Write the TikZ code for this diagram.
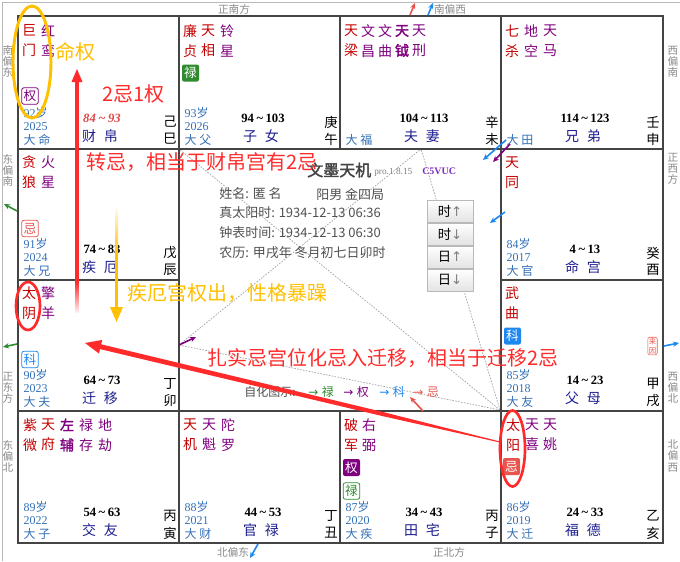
\documentclass[tikz,border=0pt]{standalone}
\usepackage{fontspec}
\setmainfont{Liberation Serif}
\newfontfamily\cjk[AutoFakeBold=2]{Noto Sans CJK SC}
\newfontfamily\djv{DejaVu Sans}
\usetikzlibrary{arrows.meta}
\definecolor{zred}{HTML}{C40000}
\definecolor{zpur}{HTML}{800080}
\definecolor{zblue}{HTML}{3470B8}
\definecolor{znavy}{HTML}{1F1F8F}
\definecolor{zgrid}{HTML}{444444}
\definecolor{zdir}{HTML}{8A8A8A}
\definecolor{zinfo}{HTML}{505050}
\definecolor{annred}{HTML}{FF2B2B}
\definecolor{annor}{HTML}{FFC000}
\definecolor{hgreen}{HTML}{2E8B2E}
\definecolor{hblue}{HTML}{1E88F0}
\definecolor{hred}{HTML}{E8554E}
\definecolor{rngred}{HTML}{E04848}
\definecolor{cpur}{HTML}{7B2FBF}
\newcommand\zwgong[9]{%
 \node[agest,anchor=west] (#1age) at ([shift={(4,-36)}]#1) {#2};
 \node[agest,anchor=west] (#1yr) at ([shift={(4,-22)}]#1) {#3};
 \node[agest,anchor=west,font=\cjk\fontsize{9}{9}\selectfont] (#1dx) at ([shift={(4,-9)}]#1) {#4};
 \node[rng,#9] (#1rng) at ([shift={(84,-31)}]#1) {#5};
 \node[pname] (#1nm) at ([shift={(82,-13)}]#1) {#6};
 \node[gz] (#1gan) at ([shift={(152,-27)}]#1) {#7};
 \node[gz] (#1zhi) at ([shift={(152,-10)}]#1) {#8};
}
\newcommand\rg[2]{#1\hspace{0.2em}\textasciitilde\hspace{0.2em}#2}
\begin{document}
\begin{tikzpicture}[x=0.75pt,y=-0.75pt,
 cellgrid/.style={draw=zgrid, line width=1.9pt},
 dotl/.style={draw=gray!75, line width=0.5pt, dash pattern=on 1.2pt off 1pt},
 starn/.style={font=\cjk\fontsize{10.5}{15}\selectfont, align=center, inner sep=0pt},
 agest/.style={font=\fontsize{9}{9}\selectfont, text=zblue, inner sep=1pt},
 rng/.style={font=\bfseries\fontsize{9.5}{10}\selectfont, inner sep=0pt},
 pname/.style={font=\cjk\fontsize{10.5}{11}\selectfont, text=znavy, inner sep=0pt},
 gz/.style={font=\cjk\fontsize{10}{11}\selectfont, inner sep=0pt},
 dirl/.style={font=\cjk\fontsize{8}{8.3}\selectfont, text=zdir, align=center, inner sep=0pt},
 huaf/.style={fill=#1, text=white, rounded corners=1.5pt, minimum size=12.75pt, inner sep=0pt, font=\cjk\fontsize{9.5}{10}\selectfont},
 huao/.style={draw=#1, fill=white, text=#1, line width=0.6pt, rounded corners=1.5pt, minimum size=12.3pt, inner sep=0pt, font=\cjk\fontsize{9.5}{10}\selectfont},
 big/.style={font=\cjk\fontsize{15}{16}\selectfont, inner sep=0pt, anchor=west},
 info/.style={font=\cjk\fontsize{9.75}{10}\selectfont, text=zinfo, anchor=west, inner sep=0pt},
 btn/.style={draw=gray!55, top color=white, bottom color=gray!22, minimum width=34.5pt, minimum height=16.5pt, inner sep=0pt, font=\cjk\fontsize{10}{10}\selectfont},
 sarr/.style={-{Stealth[length=4.5pt,width=4pt]}, line width=1.2pt},
 lgd/.style={font=\cjk\fontsize{9}{9}\selectfont, anchor=west, inner sep=0pt}
]
\useasboundingbox (0,0) rectangle (680,561);
\fill[white] (0,0) rectangle (680,561);
\draw[gray!55, line width=0.6pt] (2,561) -- (2,2) -- (680,2);

% dotted san-fang-si-zheng lines
\coordinate (pA) at (500,410);
\coordinate (pB) at (179,149);
\coordinate (pC) at (179,345);
\coordinate (pD) at (421,149);
\draw[dotl] (pA) -- (pB);
\draw[dotl] (pA) -- (pC);
\draw[dotl] (pA) -- (pD);
\draw[dotl] (pC) -- (pD);

% grid
\draw[cellgrid] (18,16) rectangle (663,543);
\draw[cellgrid] (179,16) -- (179,543);
\draw[cellgrid] (501,16) -- (501,543);
\draw[cellgrid] (340,16) -- (340,149);
\draw[cellgrid] (340,411) -- (340,543);
\draw[cellgrid] (18,149) -- (663,149);
\draw[cellgrid] (18,411) -- (663,411);
\draw[cellgrid] (18,280) -- (179,280);
\draw[cellgrid] (501,280) -- (663,280);

% direction labels
\node[dirl] (d1) at (8,61) {南\\偏\\东};
\node[dirl] (d2) at (673,62) {西\\偏\\南};
\node[dirl] (d3) at (8,170) {东\\偏\\南};
\node[dirl] (d4) at (673,169) {正\\西\\方};
\node[dirl] (d5) at (8,388) {正\\东\\方};
\node[dirl] (d6) at (673,388) {西\\偏\\北};
\node[dirl] (d7) at (8,456) {东\\偏\\北};
\node[dirl] (d8) at (673,456) {北\\偏\\西};
\node[dirl] (d9) at (234,9) {正南方};
\node[dirl] (d10) at (450,9) {南偏西};
\node[dirl] (d11) at (233,552) {北偏东};
\node[dirl] (d12) at (449,552) {正北方};

% cell corners (bottom-left)
\coordinate (si) at (18,149);
\coordinate (wu) at (179,149);
\coordinate (wei) at (340,149);
\coordinate (shen) at (501,149);
\coordinate (chen) at (18,280);
\coordinate (you) at (501,280);
\coordinate (mao) at (18,411);
\coordinate (xu) at (501,411);
\coordinate (yin) at (18,543);
\coordinate (chou) at (179,543);
\coordinate (zi) at (340,543);
\coordinate (hai) at (501,543);

\zwgong{si}{92{\cjk 岁}}{2025}{大 命}{\rg{84}{93}}{财\hspace{0.55em}帛}{己}{巳}{text=rngred,font=\bfseries\itshape\fontsize{9.5}{10}\selectfont}
\zwgong{wu}{93{\cjk 岁}}{2026}{大 父}{\rg{94}{103}}{子\hspace{0.55em}女}{庚}{午}{}
\zwgong{wei}{}{}{大 福}{\rg{104}{113}}{夫\hspace{0.55em}妻}{辛}{未}{}
\zwgong{shen}{}{}{大 田}{\rg{114}{123}}{兄\hspace{0.55em}弟}{壬}{申}{}
\zwgong{chen}{91{\cjk 岁}}{2024}{大 兄}{\rg{74}{83}}{疾\hspace{0.55em}厄}{戊}{辰}{}
\zwgong{you}{84{\cjk 岁}}{2017}{大 官}{\rg{4}{13}}{命\hspace{0.55em}宫}{癸}{酉}{}
\zwgong{mao}{90{\cjk 岁}}{2023}{大 夫}{\rg{64}{73}}{迁\hspace{0.55em}移}{丁}{卯}{}
\zwgong{xu}{85{\cjk 岁}}{2018}{大 友}{\rg{14}{23}}{父\hspace{0.55em}母}{甲}{戌}{}
\zwgong{yin}{89{\cjk 岁}}{2022}{大 子}{\rg{54}{63}}{交\hspace{0.55em}友}{丙}{寅}{}
\zwgong{chou}{88{\cjk 岁}}{2021}{大 财}{\rg{44}{53}}{官\hspace{0.55em}禄}{丁}{丑}{}
\zwgong{zi}{87{\cjk 岁}}{2020}{大 疾}{\rg{34}{43}}{田\hspace{0.55em}宅}{丙}{子}{}
\zwgong{hai}{86{\cjk 岁}}{2019}{大 迁}{\rg{24}{33}}{福\hspace{0.55em}德}{乙}{亥}{}

% stars
\node[starn,text=zred] (s1) at (29,41) {巨\\门};
\node[starn,text=zpur] (s2) at (48,41) {红\\鸾};
\node[starn,text=zred] (s3) at (190,41) {廉\\贞};
\node[starn,text=zred] (s4) at (208,41) {天\\相};
\node[starn,text=zpur] (s5) at (227,41) {铃\\星};
\node[starn,text=zred] (s6) at (351,41) {天\\梁};
\node[starn,text=zpur] (s7) at (368,41) {文\\昌};
\node[starn,text=zpur] (s8) at (385,41) {文\\曲};
\node[starn,text=zpur,font=\cjk\bfseries\fontsize{10.5}{15}\selectfont] (s9) at (402,41) {天\\钺};
\node[starn,text=zpur] (s10) at (419,41) {天\\刑};
\node[starn,text=zred] (s11) at (512,41) {七\\杀};
\node[starn,text=zpur] (s12) at (531,41) {地\\空};
\node[starn,text=zpur] (s13) at (550,41) {天\\马};
\node[starn,text=zred] (s14) at (29,172) {贪\\狼};
\node[starn,text=zpur] (s15) at (48,172) {火\\星};
\node[starn,text=zred] (s16) at (512,173) {天\\同};
\node[starn,text=zred] (s17) at (29,303) {太\\阴};
\node[starn,text=zpur] (s18) at (48,303) {擎\\羊};
\node[starn,text=zred] (s19) at (512,303) {武\\曲};
\node[starn,text=zred] (s20) at (30,435) {紫\\微};
\node[starn,text=zred] (s21) at (48,435) {天\\府};
\node[starn,text=zpur,font=\cjk\bfseries\fontsize{10.5}{15}\selectfont] (s22) at (67,435) {左\\辅};
\node[starn,text=zpur] (s23) at (86,435) {禄\\存};
\node[starn,text=zpur] (s24) at (105,435) {地\\劫};
\node[starn,text=zred] (s25) at (190,435) {天\\机};
\node[starn,text=zpur] (s26) at (209,435) {天\\魁};
\node[starn,text=zpur] (s27) at (228,435) {陀\\罗};
\node[starn,text=zred] (s28) at (351,435) {破\\军};
\node[starn,text=zpur] (s29) at (369,435) {右\\弼};
\node[starn,text=zred] (s30) at (513,435) {太\\阳};
\node[starn,text=zpur] (s31) at (532,435) {天\\喜};
\node[starn,text=zpur] (s32) at (550,435) {天\\姚};

% si hua marks
\node[huao=zpur] (h1) at (30,96) {权};
\node[huaf=hgreen] (h2) at (190.5,73) {禄};
\node[huao=hred] (h3) at (30,228.5) {忌};
\node[huao=hblue] (h4) at (30,359.5) {科};
\node[huaf=hblue] (h5) at (512.5,336) {科};
\node[huaf=zpur] (h6) at (351.5,467.5) {权};
\node[huao=hgreen] (h7) at (351.5,491) {禄};
\node[huaf=hred] (h8) at (511.5,466.5) {忌};
\node[draw=hred, rounded corners=1.5pt, inner sep=0.8pt, font=\cjk\fontsize{5.5}{6.5}\selectfont, text=hred, align=center] (laiyin) at (652.5,346) {来\\因};

% centre info
\node[font=\cjk\bfseries\fontsize{12}{12}\selectfont, text=zgrid, anchor=west, inner sep=0pt] (title) at (307,170) {文墨天机};
\node[font=\fontsize{7}{7}\selectfont, text=gray, anchor=west, inner sep=0pt] (ver) at (374,172) {pro.1.8.15};
\node[font=\bfseries\fontsize{7.5}{7.5}\selectfont, text=cpur, anchor=west, inner sep=0pt] (code) at (422,171) {C5VUC};
\node[info] (n1) at (219,194) {姓名: 匿 名};
\node[info] (n2) at (316,194) {阳男 金四局};
\node[info] (n3) at (219,213) {真太阳时: 1934-12-13 06:36};
\node[info] (n4) at (219,233) {钟表时间: 1934-12-13 06:30};
\node[info] (n5) at (219,253) {农历: 甲戌年 冬月初七日卯时};

\node[btn] (b1) at (450,211) {时{\djv\color{gray}↑}};
\node[btn] (b2) at (450,234) {时{\djv\color{gray}↓}};
\node[btn] (b3) at (450,257) {日{\djv\color{gray}↑}};
\node[btn] (b4) at (450,280) {日{\djv\color{gray}↓}};

\node[lgd, text=zinfo] (lg0) at (244,392) {自化图示:};
\node[lgd, text=hgreen] (lg1) at (308,392) {{\djv →}\hspace{0.3em}禄};
\node[lgd, text=zpur] (lg2) at (343,392) {{\djv →}\hspace{0.3em}权};
\node[lgd, text=hblue] (lg3) at (379,392) {{\djv →}\hspace{0.3em}科};
\node[lgd, text=hred] (lg4) at (413,392) {{\djv →}\hspace{0.3em}忌};

% small hua arrows
\coordinate (a1s) at (410,15); \coordinate (a1e) at (415,3);
\coordinate (a2s) at (428,15); \coordinate (a2e) at (433,3);
\coordinate (a3s) at (17,211); \coordinate (a3e) at (4,204);
\coordinate (a4s) at (17,344); \coordinate (a4e) at (3,347);
\coordinate (a5s) at (664,346); \coordinate (a5e) at (679,343);
\coordinate (a6s) at (258,544); \coordinate (a6e) at (250,558);
\coordinate (a7s) at (506,140); \coordinate (a7e) at (483,160);
\coordinate (a8s) at (510,144); \coordinate (a8e) at (493,162);
\coordinate (a9s) at (505,212); \coordinate (a9e) at (490,223);
\coordinate (a10s) at (179,345); \coordinate (a10e) at (196,337);
\coordinate (a11s) at (423,411); \coordinate (a11e) at (410,397);
\draw[sarr, hred] (a1s) -- (a1e);
\draw[sarr, hblue] (a2s) -- (a2e);
\draw[sarr, hgreen] (a3s) -- (a3e);
\draw[sarr, hgreen] (a4s) -- (a4e);
\draw[sarr, hblue] (a5s) -- (a5e);
\draw[sarr, hblue] (a6s) -- (a6e);
\draw[sarr, hblue] (a7s) -- (a7e);
\draw[sarr, zpur] (a8s) -- (a8e);
\draw[sarr, hblue] (a9s) -- (a9e);
\draw[sarr, zpur] (a10s) -- (a10e);
\draw[sarr, hred] (a11s) -- (a11e);

% annotations
\draw[annor, line width=2.2pt] (32,62) ellipse [x radius=19, y radius=56];
\draw[annred, line width=2pt] (28,306) ellipse [x radius=12, y radius=24];
\draw[annred, line width=2pt] (512.5,448.5) ellipse [x radius=12.5, y radius=38];

\node[big, text=annor] (t1) at (55,52) {命权};
\node[big, text=annred] (t2) at (102,94) {2忌1权};
\node[big, text=annred] (t3) at (86,162) {转忌，相当于财帛宫有2忌};
\node[big, text=annor] (t4) at (127,293) {疾厄宫权出，性格暴躁};
\node[big, text=annred] (t5) at (207,358) {扎实忌宫位化忌入迁移，相当于迁移2忌};

% red vertical arrow
\shade[top color=annred, bottom color=annred!8] (75.5,282) rectangle (78.5,312);
\fill[annred] (75,80) rectangle (79,283);
\fill[annred] (77,69) -- (82.5,82) -- (71.5,82) -- cycle;

% orange vertical arrow
\shade[top color=white, bottom color=annor] (115,205) rectangle (118,255);
\fill[annor] (115,254) rectangle (118,309);
\fill[annor] (116.5,322) -- (123,307) -- (110,307) -- cycle;

% tapered red arrow from hai to mao
\fill[annred] (500.1,441.5) -- (380.5,411.4) -- (101.2,344.3) -- (102.2,339.9) -- (85,343)
  -- (99.0,353.5) -- (100.0,349.1) -- (379.5,415.4) -- (499.9,442.5) -- cycle;
\end{tikzpicture}
\end{document}
